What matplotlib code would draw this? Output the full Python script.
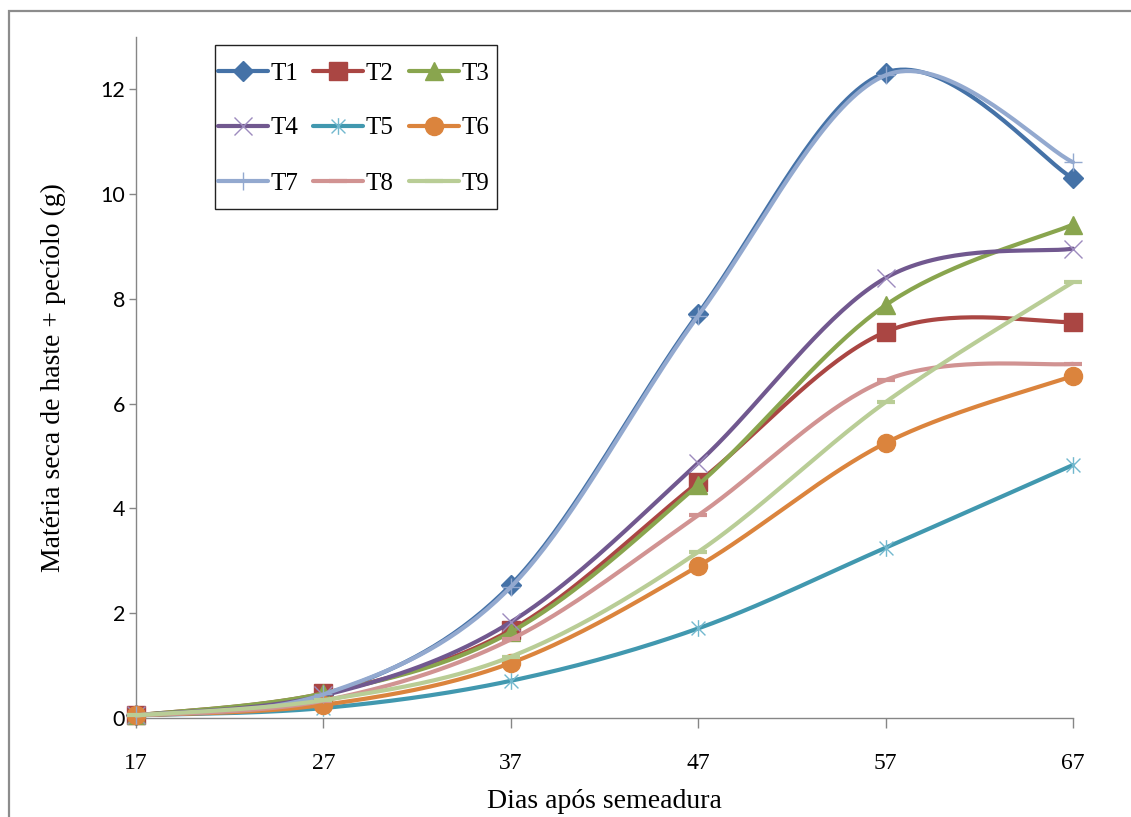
import numpy as np
import matplotlib
matplotlib.use("Agg")
import matplotlib.pyplot as plt
from matplotlib.lines import Line2D
from matplotlib.patches import Rectangle
from matplotlib.path import Path

# ---- data ----
days = [17, 27, 37, 47, 57, 67]
series_names = ["T1", "T2", "T3", "T4", "T5", "T6", "T7", "T8", "T9"]
T1 = [0.05, 0.43, 2.54, 7.72, 12.32, 10.30]
T2 = [0.05, 0.47, 1.68, 4.50, 7.37, 7.56]
T3 = [0.05, 0.47, 1.64, 4.45, 7.88, 9.42]
T4 = [0.05, 0.43, 1.83, 4.87, 8.40, 8.96]
T5 = [0.05, 0.19, 0.71, 1.71, 3.25, 4.83]
T6 = [0.05, 0.25, 1.05, 2.90, 5.25, 6.53]
T7 = [0.05, 0.45, 2.50, 7.68, 12.27, 10.61]
T8 = [0.05, 0.33, 1.50, 3.87, 6.45, 6.76]
T9 = [0.05, 0.34, 1.17, 3.17, 6.03, 8.32]
y_ticks = [0, 2, 4, 6, 8, 10, 12]

values = [T1, T2, T3, T4, T5, T6, T7, T8, T9]
line_colors = ["#4572A7", "#AA4643", "#89A54E", "#71588F", "#4198AF",
               "#DB843D", "#93A9CF", "#D19392", "#B9CD96"]
marker_colors = ["#4572A7", "#AA4643", "#89A54E", "#9D8BBE", "#72B8CE",
                 "#DB843D", "#93A9CF", "#D19392", "#B9CD96"]

asterisk = Path([(-1, -1), (1, 1), (-1, 1), (1, -1), (0, -1.2), (0, 1.2)],
                [Path.MOVETO, Path.LINETO, Path.MOVETO, Path.LINETO,
                 Path.MOVETO, Path.LINETO])
markers = ["D", "s", "^", "x", asterisk, "o", "+", "_", "_"]
msizes = [10, 13, 13, 13, 12, 13, 13, 13, 13]
mews = [1, 1, 1, 1, 1, 1, 1, 3, 3]


def excel_smooth(xs, ys, n=40):
    P = np.column_stack([xs, ys]).astype(float)
    out = []
    m = len(P)
    for i in range(m - 1):
        p0 = P[i - 1] if i > 0 else P[i]
        p1 = P[i]
        p2 = P[i + 1]
        p3 = P[i + 2] if i + 2 < m else P[i + 1]
        c1 = p1 + (p2 - p0) / 6.0
        c2 = p2 - (p3 - p1) / 6.0
        t = np.linspace(0, 1, n)[:, None]
        seg = ((1 - t) ** 3) * p1 + 3 * ((1 - t) ** 2) * t * c1 + 3 * (1 - t) * t ** 2 * c2 + t ** 3 * p2
        if i > 0:
            seg = seg[1:]
        out.append(seg)
    out = np.vstack(out)
    return out[:, 0], out[:, 1]


W, H = 1131, 817
fig = plt.figure(figsize=(W / 100, H / 100), dpi=100)
fig.patch.set_facecolor("white")

# outer chart border (partially cut)
fig.add_artist(Rectangle((9 / W, -0.1), 1.5, (H - 11) / H + 0.1, transform=fig.transFigure,
                         fill=False, edgecolor="#8C8C8C", linewidth=1.6))

ax = fig.add_axes([136 / W, 1 - 718 / H, (1073 - 136) / W, (718 - 37) / H])
ax.set_facecolor("none")

handles = []
for k, (name, vals) in enumerate(zip(series_names, values)):
    sx, sy = excel_smooth(days, vals)
    ax.plot(sx, sy, color=line_colors[k], lw=3.0, solid_capstyle="round", zorder=2 + k * 0.1,
            clip_on=False)
    ax.plot(days, vals, linestyle="none", marker=markers[k], markersize=msizes[k],
            markerfacecolor=marker_colors[k], markeredgecolor=marker_colors[k],
            markeredgewidth=mews[k], zorder=2.05 + k * 0.1, clip_on=False)
    handles.append(Line2D([0], [0], color=line_colors[k], lw=3.0, solid_capstyle="round",
                          marker=markers[k], markersize=msizes[k],
                          markerfacecolor=marker_colors[k], markeredgecolor=marker_colors[k],
                          markeredgewidth=mews[k]))

ax.set_xlim(17, 67)
ax.set_ylim(0, 13)
ax.set_xticks(days)
ax.set_xticklabels([str(d) for d in days], fontfamily="Liberation Serif", fontsize=17)
ax.set_yticks(y_ticks)
ax.set_yticklabels([str(v) for v in y_ticks], fontfamily="Lato", fontsize=15.5)

for s in ["top", "right"]:
    ax.spines[s].set_visible(False)
for s in ["left", "bottom"]:
    ax.spines[s].set_color("#868686")
    ax.spines[s].set_linewidth(1.0)
ax.tick_params(axis="x", direction="out", length=7, width=1, color="#868686", pad=18)
ax.tick_params(axis="y", direction="out", length=5, width=1, color="#868686", pad=3)

ax.set_xlabel("Dias após semeadura", fontfamily="Liberation Serif", fontsize=20)
ax.xaxis.set_label_coords(0.5, -(801 - 718) / (718 - 37), transform=ax.transAxes)
ax.xaxis.label.set_va("center")
ax.set_ylabel("Matéria seca de haste + pecíolo (g)", fontfamily="Liberation Serif", fontsize=20)
ax.yaxis.set_label_coords(-(136 - 53) / (1073 - 136), 0.5, transform=ax.transAxes)
ax.yaxis.label.set_va("center")

# legend box
fig.add_artist(Rectangle((215 / W, 1 - 209 / H), (497 - 215) / W, (209 - 45) / H,
                         transform=fig.transFigure, fill=False, edgecolor="#222222", linewidth=1.0,
                         zorder=5))
# matplotlib fills legend columns first; reorder so rows read T1 T2 T3 / T4 T5 T6 / T7 T8 T9
order = [0, 3, 6, 1, 4, 7, 2, 5, 8]
leg = fig.legend([handles[i] for i in order], [series_names[i] for i in order], loc="upper left",
                 bbox_to_anchor=(218 / W, 1 - 62 / H), ncol=3, frameon=False,
                 prop={"family": "Liberation Serif", "size": 18},
                 handlelength=2.0, handletextpad=0.1, columnspacing=0.6,
                 labelspacing=1.3, borderpad=0.0, borderaxespad=0)

fig.savefig("out.png", dpi=100)
